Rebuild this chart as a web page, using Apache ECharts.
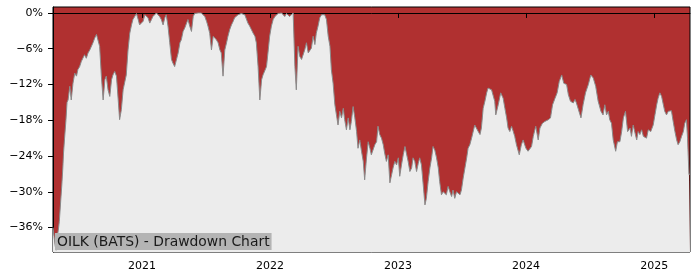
<!DOCTYPE html>
<html>
<head>
<meta charset="utf-8">
<script src="https://cdn.jsdelivr.net/npm/echarts@6/dist/echarts.min.js"></script>
<style>
html,body{margin:0;padding:0;background:#fff;}
#chart{width:700px;height:280px;}
</style>
</head>
<body>
<div id="chart"></div>
<script>
// Base date of the series (first observation)
const baseDate = '2020-04-22';
const lastDayOffset = 1817;
// Day offsets from baseDate for each observation
const dayOffsets = [0,3,6,9,12,15,18,22,25,28,30,33,37,40,43,48,52,57,62,67,71,76,81,86,90,95,100,105,109,114,119,124,128,133,138,143,148,152,157,162,167,171,176,181,186,190,195,200,205,209,214,219,224,228,233,238,243,247,252,257,262,266,271,276,281,285,290,295,300,304,309,314,319,323,328,333,338,342,347,352,357,362,366,371,376,381,385,390,395,400,404,409,414,419,423,428,433,438,442,447,452,457,461,466,471,476,480,485,490,495,499,504,509,514,518,523,528,533,537,542,547,552,556,561,566,571,576,580,585,590,595,599,604,609,614,618,623,628,633,637,642,647,652,656,661,666,671,675,680,685,690,694,699,704,709,713,718,723,728,732,737,742,747,751,756,761,766,770,775,780,785,790,794,799,804,809,813,818,823,828,832,837,842,847,851,856,861,866,870,875,880,885,889,894,899,904,908,913,918,923,927,932,937,942,946,951,956,961,966,970,975,980,985,989,994,999,1004,1008,1013,1018,1023,1027,1032,1037,1042,1046,1051,1056,1061,1065,1070,1075,1080,1084,1089,1094,1099,1103,1108,1113,1118,1122,1127,1132,1137,1141,1146,1151,1156,1161,1165,1170,1175,1180,1184,1189,1194,1203,1208,1213,1218,1222,1227,1232,1237,1241,1246,1251,1256,1260,1263,1270,1277,1284,1289,1294,1298,1303,1308,1313,1317,1322,1330,1336,1341,1349,1355,1365,1370,1377,1384,1389,1396,1403,1413,1419,1425,1432,1438,1444,1451,1457,1465,1470,1476,1484,1489,1493,1498,1506,1512,1519,1527,1534,1541,1548,1555,1563,1569,1574,1579,1584,1588,1593,1598,1605,1610,1617,1622,1627,1633,1639,1646,1650,1655,1660,1665,1669,1674,1679,1684,1688,1693,1698,1705,1712,1717,1722,1726,1731,1736,1741,1745,1750,1755,1760,1764,1769,1774,1779,1783,1788,1793,1798,1802,1807,1810,1814,1817];
// Drawdown in percent
const drawdown = [-36.0,-37.5,-39.0,-39.8,-37.5,-36.5,-35.0,-31.5,-29.0,-26.0,-23.5,-21.0,-17.9,-15.0,-14.6,-12.3,-14.6,-11.8,-10.1,-10.6,-9.5,-9.0,-8.1,-7.8,-7.0,-7.6,-6.7,-6.2,-5.9,-5.0,-4.2,-3.6,-3.4,-5.6,-10.6,-14.6,-11.2,-10.6,-12.9,-14.0,-11.2,-10.4,-9.8,-10.6,-14.6,-17.9,-16.2,-12.9,-11.5,-10.4,-6.2,-3.4,-2.0,-1.1,-0.6,-0.1,-1.1,-2.0,-2.3,-1.4,-0.3,-0.3,-0.8,-1.7,-1.1,-0.6,-0.3,0,-0.1,-0.6,-1.1,-2.0,-0.8,-0.3,-2.2,-5.0,-7.8,-8.4,-9.0,-9.2,-6.7,-5.0,-4.5,-3.1,-2.5,-1.7,-1.1,-2.2,-3.1,-0.6,-0.1,0,0,-0.1,0,-0.3,-0.6,-1.4,-2.2,-3.4,-6.2,-3.9,-3.6,-4.5,-5.0,-6.2,-6.7,-10.6,-6.2,-5.0,-3.9,-2.8,-2.0,-1.4,-0.8,-0.6,-0.3,-0.1,-0.1,-0.3,-0.3,-0.6,-1.7,-2.2,-2.5,-3.4,-3.9,-5.0,-9.0,-14.6,-11.2,-10.4,-10.6,-9.0,-6.2,-3.9,-2.2,-1.1,-0.6,-0.3,-0.1,-0.1,0,-0.3,-0.6,-0.1,-0.3,-0.6,-0.3,0,-9.0,-12.9,-5.6,-7.3,-7.8,-8.1,-6.2,-5.0,-6.7,-6.4,-5.9,-3.9,-5.3,-3.4,-2.2,-0.8,-0.3,-0.1,-0.3,-1.1,-3.9,-5.6,-9.5,-11.8,-15.4,-15.7,-18.8,-16.5,-17.6,-16.0,-17.9,-19.6,-17.6,-19.6,-18.2,-15.7,-17.6,-19.9,-22.7,-21.3,-23.2,-24.9,-28.0,-24.5,-21.6,-22.7,-23.8,-23.8,-22.1,-21.6,-19.0,-20.4,-21.0,-22.1,-23.5,-24.9,-23.8,-28.5,-27.1,-26.0,-24.9,-25.5,-24.3,-27.4,-25.5,-23.8,-22.4,-22.7,-24.9,-26.6,-26.0,-24.3,-24.9,-26.6,-25.2,-24.3,-25.5,-28.8,-32.2,-31.1,-28.3,-26.0,-24.3,-22.4,-23.0,-24.3,-26.0,-28.3,-30.5,-30.0,-29.7,-30.5,-29.1,-30.0,-30.8,-29.7,-31.1,-30.0,-29.7,-30.5,-29.7,-27.7,-26.0,-24.3,-22.7,-22.1,-21.0,-18.8,-18.5,-19.9,-20.4,-19.3,-16.0,-14.8,-13.4,-12.6,-12.3,-12.9,-12.6,-14.8,-17.1,-15.4,-13.4,-14.3,-16.0,-17.6,-19.3,-19.9,-19.0,-19.9,-20.7,-22.1,-23.8,-22.1,-21.3,-22.7,-23.2,-22.4,-20.7,-19.0,-21.3,-19.3,-18.5,-18.2,-17.9,-17.6,-15.4,-14.3,-13.4,-11.5,-10.4,-11.8,-12.0,-13.7,-14.8,-15.1,-14.5,-15.1,-15.0,-17.6,-15.4,-13.4,-12.0,-10.4,-10.9,-12.3,-14.8,-16.5,-17.1,-15.4,-17.1,-16.5,-17.9,-18.5,-21.3,-23.2,-21.6,-21.6,-19.9,-17.6,-16.5,-19.9,-19.3,-20.7,-18.8,-20.1,-21.3,-19.9,-20.4,-19.6,-20.7,-20.4,-21.0,-19.6,-19.9,-18.8,-17.1,-15.4,-14.3,-13.4,-14.0,-15.4,-16.5,-17.1,-16.5,-16.8,-16.4,-18.2,-19.9,-21.3,-22.1,-21.6,-20.7,-19.9,-18.5,-17.9,-21.0,-27.1,-27.0];
const yTickValues = [0,-6,-12,-18,-24,-30,-36];
const yearTicks = ['2021-01-01','2022-01-01','2023-01-01','2024-01-01','2025-01-01'];
const chartTitle = 'OILK (BATS) - Drawdown Chart';

const DAY = 86400000;
const base = Date.parse(baseDate + 'T00:00:00Z');
const seriesData = dayOffsets.map((d, i) => [base + d * DAY, drawdown[i]]);
const yearTickTs = yearTicks.map(s => Date.parse(s + 'T00:00:00Z'));

const FONT = 'DejaVu Sans';
const chart = echarts.init(document.getElementById('chart'), null, {renderer: 'canvas'});
chart.setOption({
  animation: false,
  backgroundColor: '#ffffff',
  grid: {
    left: 53, right: 10, top: 7, bottom: 28,
    show: true, backgroundColor: '#b03030', borderColor: '#000000', borderWidth: 1
  },
  xAxis: {
    type: 'value',
    min: base, max: base + lastDayOffset * DAY,
    axisLine: {show: true, lineStyle: {color: '#000', width: 1}},
    axisTick: {show: true, length: 5, customValues: yearTickTs, lineStyle: {color: '#000'}},
    axisLabel: {
      customValues: yearTickTs, margin: 9,
      formatter: v => String(new Date(v).getUTCFullYear()),
      color: '#000', fontFamily: FONT, fontSize: 11
    },
    splitLine: {show: false}
  },
  yAxis: {
    type: 'value',
    min: -40.1, max: 1.0,
    axisLine: {show: true, lineStyle: {color: '#000', width: 1}},
    axisTick: {show: true, length: 5, customValues: yTickValues, lineStyle: {color: '#000'}},
    axisLabel: {
      customValues: yTickValues, margin: 10,
      formatter: v => (v < 0 ? '\u2212' + Math.abs(v) : String(v)) + '%',
      color: '#000', fontFamily: FONT, fontSize: 11
    },
    splitLine: {show: false}
  },
  series: [{
    type: 'line',
    data: seriesData,
    showSymbol: false,
    symbol: 'none',
    lineStyle: {color: '#8a8a8a', width: 1},
    areaStyle: {color: '#ececec', opacity: 1, origin: 'start'},
    silent: true
  }],
  graphic: [{
    type: 'text',
    left: 55, top: 233,
    z: 100,
    style: {
      text: chartTitle,
      font: '13.9px "DejaVu Sans"',
      fill: '#1a1a1a',
      backgroundColor: '#b4b4b4',
      padding: [2, 2, 1, 2]
    }
  }]
});
</script>
</body>
</html>
